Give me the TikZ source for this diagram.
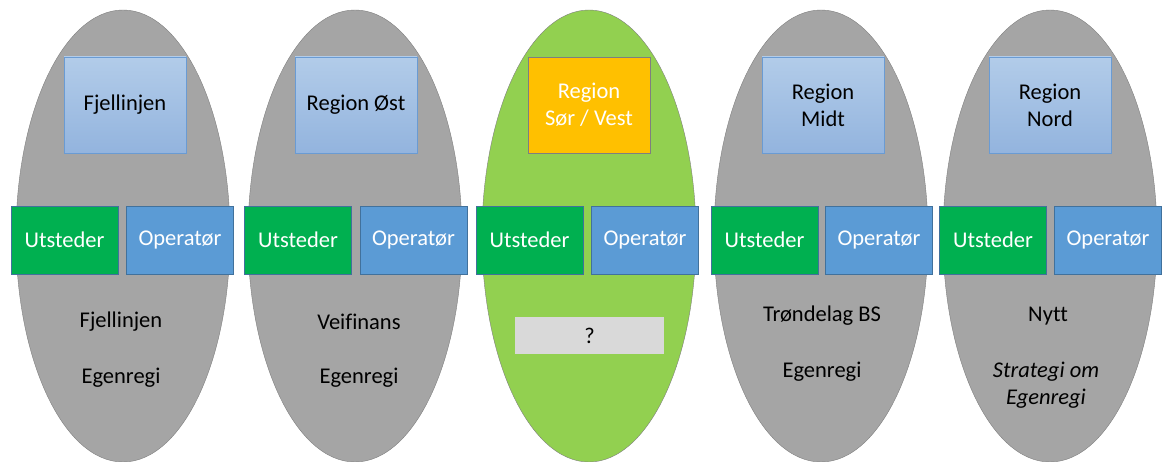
\documentclass[tikz,border=0pt]{standalone}
\usepackage{fontspec}
\setmainfont[Ligatures=NoCommon]{Carlito}
\usetikzlibrary{shapes.geometric}
\definecolor{oval}{HTML}{A5A5A5}
\definecolor{ovaledge}{HTML}{7F7F7F}
\definecolor{ovalgreen}{HTML}{92D050}
\definecolor{boxtop}{HTML}{B2CCE9}
\definecolor{boxbot}{HTML}{93B4DE}
\definecolor{boxedge}{HTML}{6A9BD3}
\definecolor{utgreen}{HTML}{00B050}
\definecolor{opblue}{HTML}{5B9BD5}
\definecolor{opedge}{HTML}{41719C}
\definecolor{orange}{HTML}{FFC000}
\definecolor{unknown}{HTML}{D9D9D9}
\begin{document}
\begin{tikzpicture}[x=1pt,y=-1pt,
  font=\fontsize{22.5}{27}\selectfont,
  oval/.style={ellipse,draw=ovaledge,fill=oval,inner sep=0pt,outer sep=0pt,minimum width=214pt,minimum height=452pt},
  regionbase/.style={minimum width=122pt,minimum height=96pt,align=center},
  regionbox/.style={regionbase,draw=boxedge,top color=boxtop,bottom color=boxbot},
  utsteder/.style={draw=opedge,fill=utgreen,text=white,minimum width=107pt,minimum height=68pt},
  operator/.style={draw=opedge,fill=opblue,text=white,minimum width=107pt,minimum height=68pt},
  owner/.style={align=center}]
\useasboundingbox (0,0) rectangle (1162,462);
% ovals
\node[oval] (o1) at (123,236) {};
\node[oval] (o2) at (355,236) {};
\node[oval,fill=ovalgreen] (o3) at (589,236) {};
\node[oval] (o4) at (821,236) {};
\node[oval] (o5) at (1050,236) {};
% regions
\node[regionbox] (r1) at (125,105) {Fjellinjen};
\node[regionbox] (r2) at (356,105) {Region Øst};
\node[regionbase,draw=ovaledge,fill=orange,text=white] (r3) at (589,105) {Region\\Sør / Vest};
\node[regionbox] (r4) at (823,105) {Region\\Midt};
\node[regionbox] (r5) at (1050,105) {Region\\Nord};
% roles
\node[utsteder] (u1) at (64.5,240) {Utsteder};
\node[operator] (p1) at (180,240) {Operatør};
\node[utsteder] (u2) at (298,240) {Utsteder};
\node[operator] (p2) at (413.5,240) {Operatør};
\node[utsteder] (u3) at (529.5,240) {Utsteder};
\node[operator] (p3) at (645,240) {Operatør};
\node[utsteder] (u4) at (764.5,240) {Utsteder};
\node[operator] (p4) at (879,240) {Operatør};
\node[utsteder] (u5) at (993,240) {Utsteder};
\node[operator] (p5) at (1108,240) {Operatør};
% owners
\node[owner] (w1) at (121,322) {Fjellinjen};
\node[owner] (m1) at (121,378) {Egenregi};
\node[owner] (w2) at (359,322) {Veifinans};
\node[owner] (m2) at (359,378) {Egenregi};
\node[fill=unknown,minimum width=149pt,minimum height=37pt] (w3) at (589.5,335.5) {?};
\node[owner] (w4) at (822,316) {Trøndelag BS};
\node[owner] (m4) at (822,372) {Egenregi};
\node[owner] (w5) at (1048,316) {Nytt};
\node[owner,font=\fontsize{22.5}{27}\selectfont\itshape] (m5) at (1046,385) {Strategi om\\Egenregi};
\end{tikzpicture}
\end{document}
